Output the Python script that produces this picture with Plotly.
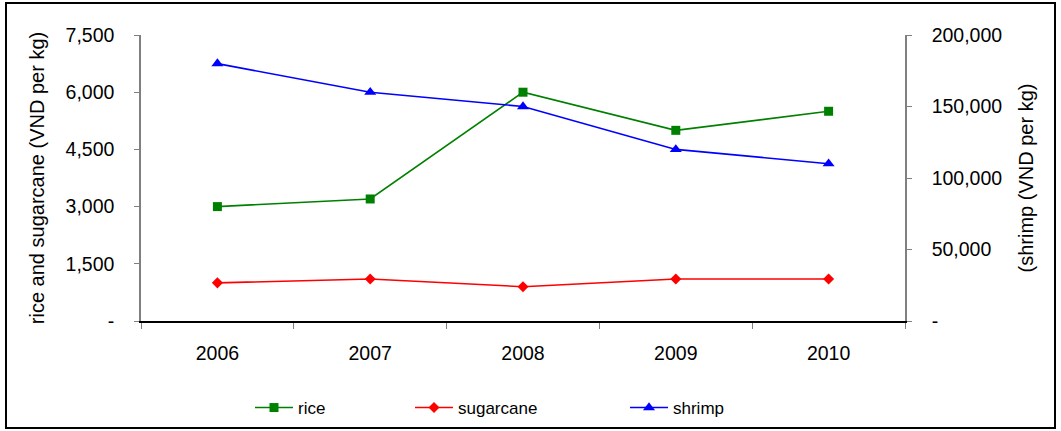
import plotly.graph_objects as go

years = ["2006", "2007", "2008", "2009", "2010"]
rice = [3000, 3200, 6000, 5000, 5500]
sugarcane = [1000, 1100, 900, 1100, 1100]
shrimp = [180000, 160000, 150000, 120000, 110000]

left_ticks = [0, 1500, 3000, 4500, 6000, 7500]
left_text = ["-", "1,500", "3,000", "4,500", "6,000", "7,500"]
right_ticks = [0, 50000, 100000, 150000, 200000]
right_text = ["-", "50,000", "100,000", "150,000", "200,000"]

FONT = "Liberation Sans, Arial, sans-serif"
AXIS_GREY = "#808080"

W, H = 1061, 431
L, R, T, B = 141, 156, 35, 110
pw, ph = W - L - R, H - T - B


def px_x(x):
    return (x - L) / pw


def px_y(y):
    return (H - B - y) / ph


fig = go.Figure()
fig.add_trace(go.Scatter(
    x=years, y=rice, name="rice", mode="lines+markers",
    line=dict(color="#008000", width=1.6),
    marker=dict(symbol="square", size=9, color="#008000"),
    legend="legend", showlegend=True))
fig.add_trace(go.Scatter(
    x=years, y=sugarcane, name="sugarcane", mode="lines+markers",
    line=dict(color="#ff0000", width=1.6),
    marker=dict(symbol="diamond", size=8.5, color="#ff0000"),
    legend="legend2", showlegend=True))
fig.add_trace(go.Scatter(
    x=years, y=shrimp, name="shrimp", mode="lines+markers", yaxis="y2",
    line=dict(color="#0000ff", width=1.6),
    marker=dict(symbol="triangle-up", size=10.5, color="#0000ff"),
    legend="legend3", showlegend=True))

tick_font = dict(family=FONT, size=19.5, color="black")
title_font = dict(family=FONT, size=20, color="black")
legend_font = dict(family=FONT, size=17, color="black")

legend_common = dict(orientation="h", yanchor="middle", y=px_y(408),
                     xanchor="left", font=legend_font, itemwidth=38,
                     bgcolor="rgba(0,0,0,0)", borderwidth=0, visible=True)

fig.update_layout(
    width=W, height=H,
    margin=dict(l=L, r=R, t=T, b=B, autoexpand=False),
    paper_bgcolor="white", plot_bgcolor="white",
    font=dict(family=FONT, color="black"),
    showlegend=True,
    xaxis=dict(
        type="category", range=[-0.5, 4.5], automargin=False,
        showline=True, linecolor="black", linewidth=1.5,
        ticks="outside", ticklen=6, tickcolor=AXIS_GREY, tickwidth=1,
        tickson="boundaries", showgrid=False, zeroline=False,
        tickfont=tick_font, ticklabelstandoff=14,
    ),
    xaxis2=dict(
        overlaying="x", anchor="y", range=[-0.5, 4.5], automargin=False,
        tickvals=[-0.5, 0.5, 1.5, 2.5, 3.5, 4.5],
        ticks="inside", ticklen=6, tickcolor=AXIS_GREY, tickwidth=1,
        showticklabels=False, showline=False, showgrid=False, zeroline=False,
    ),
    yaxis=dict(
        range=[0, 7500], tickvals=left_ticks, ticktext=left_text,
        automargin=False,
        showline=True, linecolor=AXIS_GREY, linewidth=1.5,
        ticks="outside", ticklen=5, tickcolor=AXIS_GREY, tickwidth=1,
        showgrid=False, zeroline=False, tickfont=tick_font,
        ticklabelstandoff=16,
        title=dict(text="rice and sugarcane (VND per kg)", font=title_font,
                   standoff=16),
    ),
    yaxis2=dict(
        overlaying="y", side="right", anchor="x", automargin=False,
        range=[0, 200000], tickvals=right_ticks, ticktext=right_text,
        showline=True, linecolor=AXIS_GREY, linewidth=1.5,
        ticks="outside", ticklen=5, tickcolor=AXIS_GREY, tickwidth=1,
        showgrid=False, zeroline=False, tickfont=tick_font,
        ticklabelstandoff=16,
        title=dict(text="(shrimp (VND per kg)", font=title_font, standoff=18),
    ),
    yaxis3=dict(
        overlaying="y", side="left", anchor="x", range=[0, 7500],
        automargin=False,
        tickvals=left_ticks, ticks="inside", ticklen=5, tickcolor=AXIS_GREY,
        showticklabels=False, showline=False, showgrid=False, zeroline=False,
    ),
    yaxis4=dict(
        overlaying="y", side="right", anchor="x", range=[0, 200000],
        automargin=False,
        tickvals=right_ticks, ticks="inside", ticklen=5, tickcolor=AXIS_GREY,
        showticklabels=False, showline=False, showgrid=False, zeroline=False,
    ),
    legend=dict(x=px_x(250), **legend_common),
    legend2=dict(x=px_x(410), **legend_common),
    legend3=dict(x=px_x(625), **legend_common),
    shapes=[dict(type="rect", xref="paper", yref="paper",
                 x0=px_x(6), x1=px_x(1055), y0=px_y(428), y1=px_y(3),
                 line=dict(color="black", width=2))],
)

fig.write_html("out.html")
